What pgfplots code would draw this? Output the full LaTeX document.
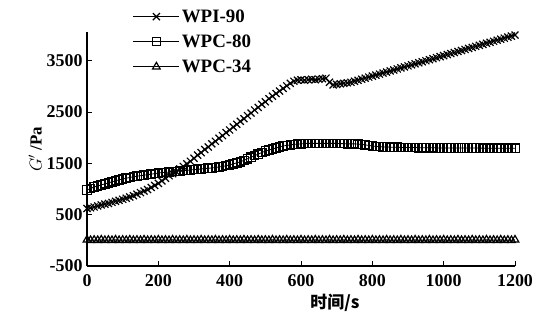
\documentclass[border=0pt]{standalone}
\usepackage{fontspec}
\setmainfont{Liberation Serif}
\newfontfamily\cjk{Noto Sans CJK SC}
\usepackage{pgfplots}
\usepackage{pgfplotstable}
\pgfplotsset{compat=1.18}
\pgfplotstableread{
x wpi wpc80 wpc34
0 620 980 10
10 635 1010 0
20 650 1040 5
30 670 1060 0
40 690 1080 10
50 705 1100 0
60 720 1120 5
70 740 1140 0
80 760 1160 10
90 780 1180 0
100 800 1195 5
110 820 1210 0
120 845 1225 10
130 870 1240 0
140 900 1250 5
150 930 1260 0
160 960 1270 10
170 990 1280 0
180 1030 1290 5
190 1070 1300 0
200 1110 1310 10
210 1160 1320 0
220 1210 1325 5
230 1260 1330 0
240 1300 1340 10
250 1340 1345 0
260 1390 1350 5
270 1440 1360 0
280 1490 1365 10
290 1540 1370 0
300 1600 1380 5
310 1660 1385 0
320 1710 1390 10
330 1770 1400 0
340 1820 1405 5
350 1880 1410 0
360 1930 1420 10
370 1990 1430 0
380 2040 1440 5
390 2100 1455 0
400 2150 1470 10
410 2210 1490 0
420 2260 1510 5
430 2320 1530 0
440 2370 1560 10
450 2430 1590 0
460 2480 1620 5
470 2540 1650 0
480 2590 1680 10
490 2650 1710 0
500 2700 1740 5
510 2760 1760 0
520 2810 1780 10
530 2860 1800 0
540 2910 1820 5
550 2960 1840 0
560 3010 1850 10
570 3060 1860 0
580 3100 1870 5
590 3120 1875 0
600 3130 1880 10
610 3120 1885 0
620 3130 1890 5
630 3140 1890 0
640 3130 1890 10
650 3140 1890 0
660 3150 1890 5
670 3160 1890 0
680 3080 1890 10
690 3030 1890 0
700 3040 1890 5
710 3050 1885 0
720 3060 1885 10
730 3070 1880 0
740 3080 1880 5
750 3100 1880 0
760 3120 1875 10
770 3140 1870 0
780 3160 1860 5
790 3180 1850 0
800 3200 1840 10
810 3220 1830 0
820 3240 1825 5
830 3260 1820 0
840 3280 1820 10
850 3300 1815 0
860 3320 1815 5
870 3340 1815 0
880 3360 1810 10
890 3380 1810 0
900 3400 1810 5
910 3420 1810 0
920 3440 1810 10
930 3460 1805 0
940 3480 1805 5
950 3500 1805 0
960 3520 1805 10
970 3540 1805 0
980 3560 1800 5
990 3580 1800 0
1000 3600 1800 10
1010 3620 1800 0
1020 3640 1800 5
1030 3660 1800 0
1040 3680 1800 10
1050 3700 1800 0
1060 3720 1800 5
1070 3740 1800 0
1080 3760 1800 10
1090 3780 1800 0
1100 3800 1800 5
1110 3820 1795 0
1120 3840 1795 10
1130 3860 1795 0
1140 3880 1795 5
1150 3900 1795 0
1160 3920 1795 10
1170 3940 1795 0
1180 3960 1795 5
1190 3980 1795 0
1200 4000 1795 10
}\datatable
\begin{document}
\begin{tikzpicture}
\begin{axis}[
  name=ax,
  scale only axis,
  width=428bp, height=234bp,
  xmin=0, xmax=1200, ymin=-500, ymax=4060,
  axis x line*=bottom, axis y line*=left,
  axis line style={line width=1.1pt},
  xtick={0,200,...,1200},
  ytick={-500,500,1500,2500,3500},
  tick align=inside,
  major tick length=5bp,
  tick style={line width=0.9pt, black},
  /pgf/number format/assume math mode=true,
  /pgf/number format/set thousands separator={},
  ticklabel style={font=\fontsize{18}{20}\selectfont\bfseries},
  xticklabel style={yshift=-5bp},
  yticklabel style={xshift=-1bp},
  xlabel={\cjk\bfseries 时间/s},
  xlabel style={font=\fontsize{17}{19}\selectfont, xshift=34bp, yshift=-1bp},
  ylabel={$G'$ /Pa},
  ylabel style={font=\fontsize{17}{19}\selectfont\bfseries, yshift=-2bp},
  legend style={draw=none, fill=none, at={(0.107,1.105)}, anchor=north west,
    font=\fontsize{19}{21}\selectfont\bfseries, row sep=7pt, inner sep=0pt},
  legend cell align=left,
  legend image code/.code={\draw[mark repeat=2,mark phase=2] plot coordinates {(0bp,0bp) (23bp,0bp) (46bp,0bp)};},
]
\addplot[black, line width=0.8pt, mark=x, mark size=5pt, mark options={line width=1.2pt}] table[x=x,y=wpi] {\datatable};
\addlegendentry{WPI-90}
\addplot[black, line width=0.8pt, mark=square, mark size=4.2pt, mark options={line width=1.2pt}] table[x=x,y=wpc80] {\datatable};
\addlegendentry{WPC-80}
\addplot[black, line width=0.8pt, mark=triangle, mark size=4.4pt, mark options={line width=1.2pt}] table[x=x,y=wpc34] {\datatable};
\addlegendentry{WPC-34}
\end{axis}
\pgfresetboundingbox
\path[use as bounding box] (ax.south west) ++(-87bp,-66bp) rectangle ++(551bp,332bp);
\end{tikzpicture}
\end{document}
